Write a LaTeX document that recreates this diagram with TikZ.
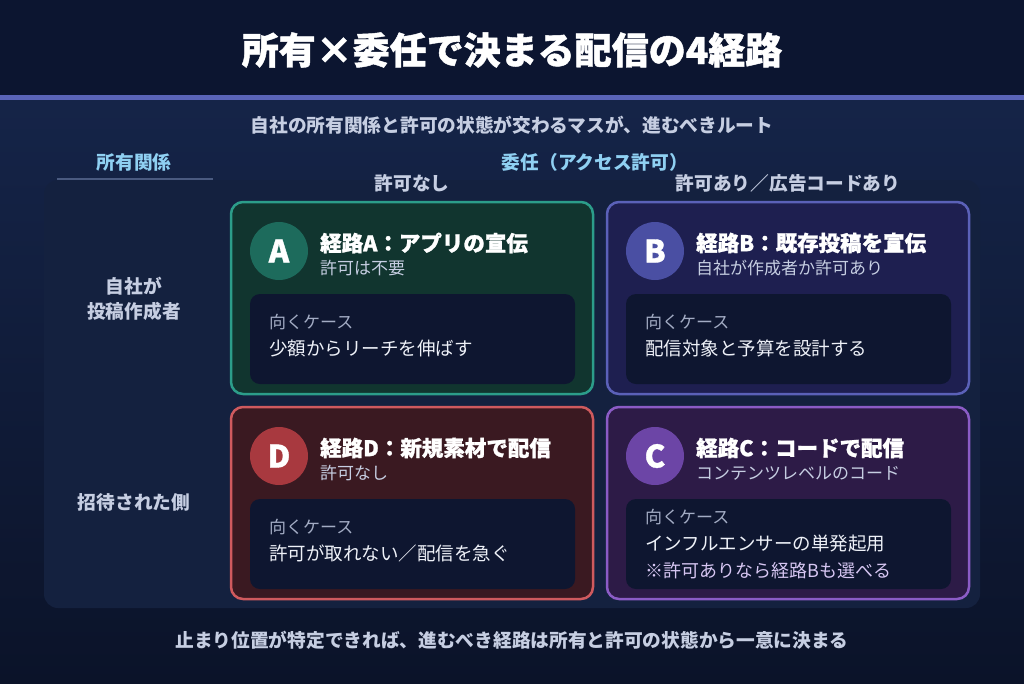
\documentclass[tikz,border=0pt]{standalone}
\usepackage{fontspec}
\setmainfont{Noto Sans CJK JP}
\newfontfamily\heavyfont{Noto Sans CJK JP}[BoldFeatures={FakeBold=1.2}]
\definecolor{hdr}{HTML}{0C1530}
\definecolor{accent}{HTML}{5A64B8}
\definecolor{bgtop}{HTML}{152448}
\definecolor{bgbot}{HTML}{0B1329}
\definecolor{panel}{HTML}{14213F}
\definecolor{headblue}{HTML}{8FD0F2}
\definecolor{soft}{HTML}{C6CEE2}
\definecolor{rule}{HTML}{4A5A80}
\definecolor{innerbox}{HTML}{0E1630}
\definecolor{casegray}{HTML}{A3ACC4}
\definecolor{casewhite}{HTML}{EEF1F8}
\definecolor{notec}{HTML}{D6C6F2}
\definecolor{afill}{HTML}{11352F}
\definecolor{aborder}{HTML}{2C9D8A}
\definecolor{acirc}{HTML}{1D6B5C}
\definecolor{bfill}{HTML}{1E1F50}
\definecolor{bborder}{HTML}{5B61B8}
\definecolor{bcirc}{HTML}{4A4FA3}
\definecolor{dfill}{HTML}{3A1921}
\definecolor{dborder}{HTML}{CF5A5E}
\definecolor{dcirc}{HTML}{A8393F}
\definecolor{cfill}{HTML}{2D1B47}
\definecolor{cborder}{HTML}{8B5CC6}
\definecolor{ccirc}{HTML}{6C45A6}
\tikzset{
  cellbox/.style={rectangle, rounded corners=12pt, line width=2.5pt, minimum width=362pt, minimum height=192pt, inner sep=0pt},
  casebox/.style={rectangle, rounded corners=10pt, fill=innerbox, minimum width=325pt, minimum height=90pt, inner sep=0pt},
  letterdisc/.style={circle, minimum size=58pt, inner sep=0pt, text=white, font=\heavyfont\fontsize{31}{31}\selectfont\bfseries},
  celltitle/.style={anchor=west, inner sep=0pt, text=white, font=\heavyfont\fontsize{21.5}{24}\selectfont\bfseries},
  cellsub/.style={anchor=west, inner sep=0pt, text=soft, font=\fontsize{17}{20}\selectfont},
  casetext/.style={anchor=west, inner sep=0pt, align=left, font=\fontsize{17}{27}\selectfont},
  heading/.style={inner sep=0pt, font=\fontsize{18.7}{22}\selectfont\bfseries},
}
\newcommand\routecell[8]{%
  \begin{scope}[shift={#2}]
    \node[cellbox, draw=#3border, fill=#3fill] (#1cell) at (181,96) {};
    \node[letterdisc, fill=#3circ] (#1disc) at (48,49) {#4};
    \node[celltitle] (#1title) at (89,41) {#5};
    \node[cellsub] (#1sub) at (89,66) {#6};
    \node[casebox] (#1box) at (181.5,137) {};
    \node[casetext] (#1case) at (38,#8) {#7};
  \end{scope}}
\begin{document}
\begin{tikzpicture}[x=1pt,y=-1pt]
\useasboundingbox (0,0) rectangle (1024,683);
\fill[top color=bgtop, bottom color=bgbot] (0,100) rectangle (1024,683);
\fill[hdr] (0,0) rectangle (1024,95);
\fill[accent] (0,95) rectangle (1024,100);
\fill[panel, rounded corners=14pt] (44,180) rectangle (980,608);

\node[inner sep=0pt, text=white, font=\heavyfont\fontsize{37}{40}\selectfont\bfseries] (title) at (512,50) {所有×委任で決まる配信の4経路};
\node[heading, text=soft] (lead) at (512,125) {自社の所有関係と許可の状態が交わるマスが、進むべきルート};

\node[heading, text=headblue] (ownhead) at (134,162) {所有関係};
\draw[rule, line width=1.5pt] (57,179) coordinate (rl) -- (213,179) coordinate (rr);
\node[heading, text=headblue] (delhead) at (595,162) {委任（アクセス許可）};
\node[heading, text=soft] (colno) at (412,183) {許可なし};
\node[heading, text=soft] (colyes) at (788,183) {許可あり／広告コードあり};

\node[heading, text=soft, align=center, font=\fontsize{18.7}{25}\selectfont\bfseries] (rowown) at (134,299) {自社が\\投稿作成者};
\node[heading, text=soft] (rowinv) at (134,502) {招待された側};

\routecell{a}{(231,202)}{a}{A}{経路A：アプリの宣伝}{許可は不要}{{\color{casegray}向くケース}\\{\color{casewhite}\fontsize{18.5}{27}\selectfont 少額からリーチを伸ばす}}{134}
\routecell{b}{(607,202)}{b}{B}{経路B：既存投稿を宣伝}{自社が作成者か許可あり}{{\color{casegray}向くケース}\\{\color{casewhite}\fontsize{18.5}{27}\selectfont 配信対象と予算を設計する}}{134}
\routecell{d}{(231,407)}{d}{D}{経路D：新規素材で配信}{許可なし}{{\color{casegray}向くケース}\\{\color{casewhite}\fontsize{18.5}{27}\selectfont 許可が取れない／配信を急ぐ}}{134}
\routecell{c}{(607,407)}{c}{C}{経路C：コードで配信}{コンテンツレベルのコード}{{\color{casegray}向くケース}\\{\color{casewhite}\fontsize{18.5}{26}\selectfont インフルエンサーの単発起用}\\{\color{notec}\fontsize{18}{26}\selectfont ※許可ありなら経路Bも選べる}}{137}

\node[heading, text=soft] (foot) at (512,640) {止まり位置が特定できれば、進むべき経路は所有と許可の状態から一意に決まる};
\end{tikzpicture}
\end{document}
